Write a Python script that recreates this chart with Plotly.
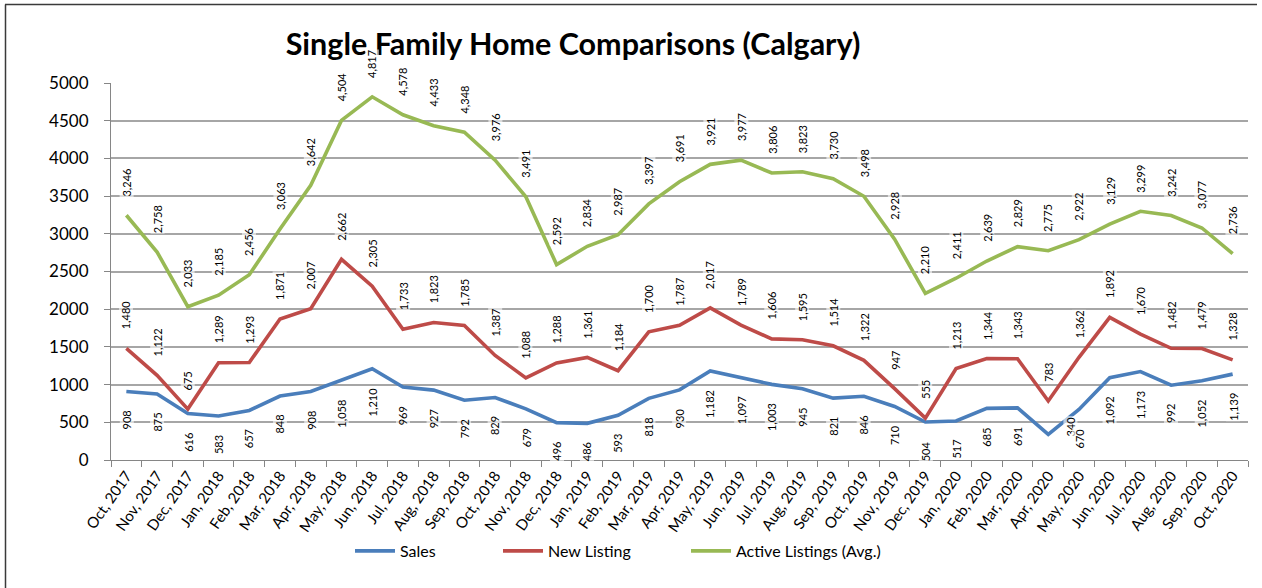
import plotly.graph_objects as go

months = ["Oct, 2017", "Nov, 2017", "Dec, 2017", "Jan, 2018", "Feb, 2018", "Mar, 2018", "Apr, 2018",
          "May, 2018", "Jun, 2018", "Jul, 2018", "Aug, 2018", "Sep, 2018", "Oct, 2018", "Nov, 2018",
          "Dec, 2018", "Jan, 2019", "Feb, 2019", "Mar, 2019", "Apr, 2019", "May, 2019", "Jun, 2019",
          "Jul, 2019", "Aug, 2019", "Sep, 2019", "Oct, 2019", "Nov, 2019", "Dec, 2019", "Jan, 2020",
          "Feb, 2020", "Mar, 2020", "Apr, 2020", "May, 2020", "Jun, 2020", "Jul, 2020", "Aug, 2020",
          "Sep, 2020", "Oct, 2020"]

sales = [908, 875, 616, 583, 657, 848, 908, 1058, 1210, 969, 927, 792, 829, 679, 496, 486, 593,
         818, 930, 1182, 1097, 1003, 945, 821, 846, 710, 504, 517, 685, 691, 340, 670, 1092, 1173,
         992, 1052, 1139]

new_listing = [1480, 1122, 675, 1289, 1293, 1871, 2007, 2662, 2305, 1733, 1823, 1785, 1387, 1088,
               1288, 1361, 1184, 1700, 1787, 2017, 1789, 1606, 1595, 1514, 1322, 947, 555, 1213,
               1344, 1343, 783, 1362, 1892, 1670, 1482, 1479, 1328]

active_listings = [3246, 2758, 2033, 2185, 2456, 3063, 3642, 4504, 4817, 4578, 4433, 4348, 3976,
                   3491, 2592, 2834, 2987, 3397, 3691, 3921, 3977, 3806, 3823, 3730, 3498, 2928,
                   2210, 2411, 2639, 2829, 2775, 2922, 3129, 3299, 3242, 3077, 2736]

y_ticks = [0, 500, 1000, 1500, 2000, 2500, 3000, 3500, 4000, 4500, 5000]

series = [
    ("Sales", sales, "#4A7EBB", "below"),
    ("New Listing", new_listing, "#BE4B48", "above"),
    ("Active Listings (Avg.)", active_listings, "#98B954", "above"),
]

FONT = "Lato, 'Liberation Sans', Arial, sans-serif"
W, H = 1262, 588
L, R, T, B = 111, 14, 83, 128


def px_x(p):
    return (p - L) / (W - L - R)


def px_y(p):
    return (H - B - p) / (H - T - B)


fig = go.Figure()
annotations = []
legend_names = ["legend", "legend2", "legend3"]
for k, (name, vals, color, pos) in enumerate(series):
    fig.add_trace(go.Scatter(
        x=months, y=vals, name=name, mode="lines",
        line=dict(color=color, width=3.6), legend=legend_names[k],
    ))
    for i, (m, v) in enumerate(zip(months, vals)):
        ann = dict(
            x=m, y=v, xref="x", yref="y", text=f"{v:,}", showarrow=False,
            textangle=-90, font=dict(family=FONT, size=11, color="#000000"),
            bgcolor="rgba(255,255,255,0.6)", borderpad=0,
        )
        if name == "Sales" and i == 30:
            ann.update(yanchor="middle", xshift=22, yshift=8)
        elif pos == "below":
            ann.update(yanchor="top", yshift=-18)
        else:
            ann.update(yanchor="bottom", yshift=18)
        annotations.append(ann)

legend_common = dict(orientation="h", yanchor="middle", xanchor="left", itemwidth=40,
                     font=dict(family=FONT, size=16, color="#000000"),
                     bgcolor="rgba(0,0,0,0)", borderwidth=0)

fig.update_layout(
    width=W, height=H,
    margin=dict(l=L, r=R, t=T, b=B, autoexpand=False),
    paper_bgcolor="white", plot_bgcolor="white",
    title=dict(text="<b>Single Family Home Comparisons (Calgary)</b>",
               x=573 / W, y=1 - 44 / H, xanchor="center", yanchor="middle",
               xref="container", yref="container",
               font=dict(family=FONT, size=30.5, color="#000000")),
    xaxis=dict(
        type="category", range=[-0.5, len(months) - 0.5],
        showline=True, linecolor="#868686", linewidth=1.2,
        ticks="outside", tickson="boundaries", ticklen=6, tickcolor="#868686",
        tickangle=-55, tickfont=dict(family=FONT, size=15, color="#000000"),
        showgrid=False, zeroline=False,
    ),
    yaxis=dict(
        range=[0, 5000], tickvals=y_ticks, ticktext=[str(t) for t in y_ticks],
        showline=True, linecolor="#868686", linewidth=1.2,
        ticks="outside", ticklen=6, tickcolor="#868686", ticklabelstandoff=12,
        tickfont=dict(family=FONT, size=17, color="#000000"),
        showgrid=True, gridcolor="#A6A6A6", gridwidth=1.5, zeroline=False,
    ),
    legend=dict(x=px_x(350), y=px_y(551), **legend_common),
    legend2=dict(x=px_x(498), y=px_y(551), **legend_common),
    legend3=dict(x=px_x(686), y=px_y(551), **legend_common),
    annotations=annotations,
    shapes=[
        dict(type="line", xref="paper", yref="paper",
             x0=px_x(5.5), x1=px_x(5.5), y0=px_y(4.5), y1=px_y(600),
             line=dict(color="#3a3a3a", width=1.5)),
        dict(type="line", xref="paper", yref="paper",
             x0=px_x(5), x1=px_x(1257), y0=px_y(4.5), y1=px_y(4.5),
             line=dict(color="#3a3a3a", width=1.5)),
    ],
    showlegend=True,
)

fig.write_html("out.html", config={"displayModeBar": False},
               post_script="document.body.style.margin='0';")
